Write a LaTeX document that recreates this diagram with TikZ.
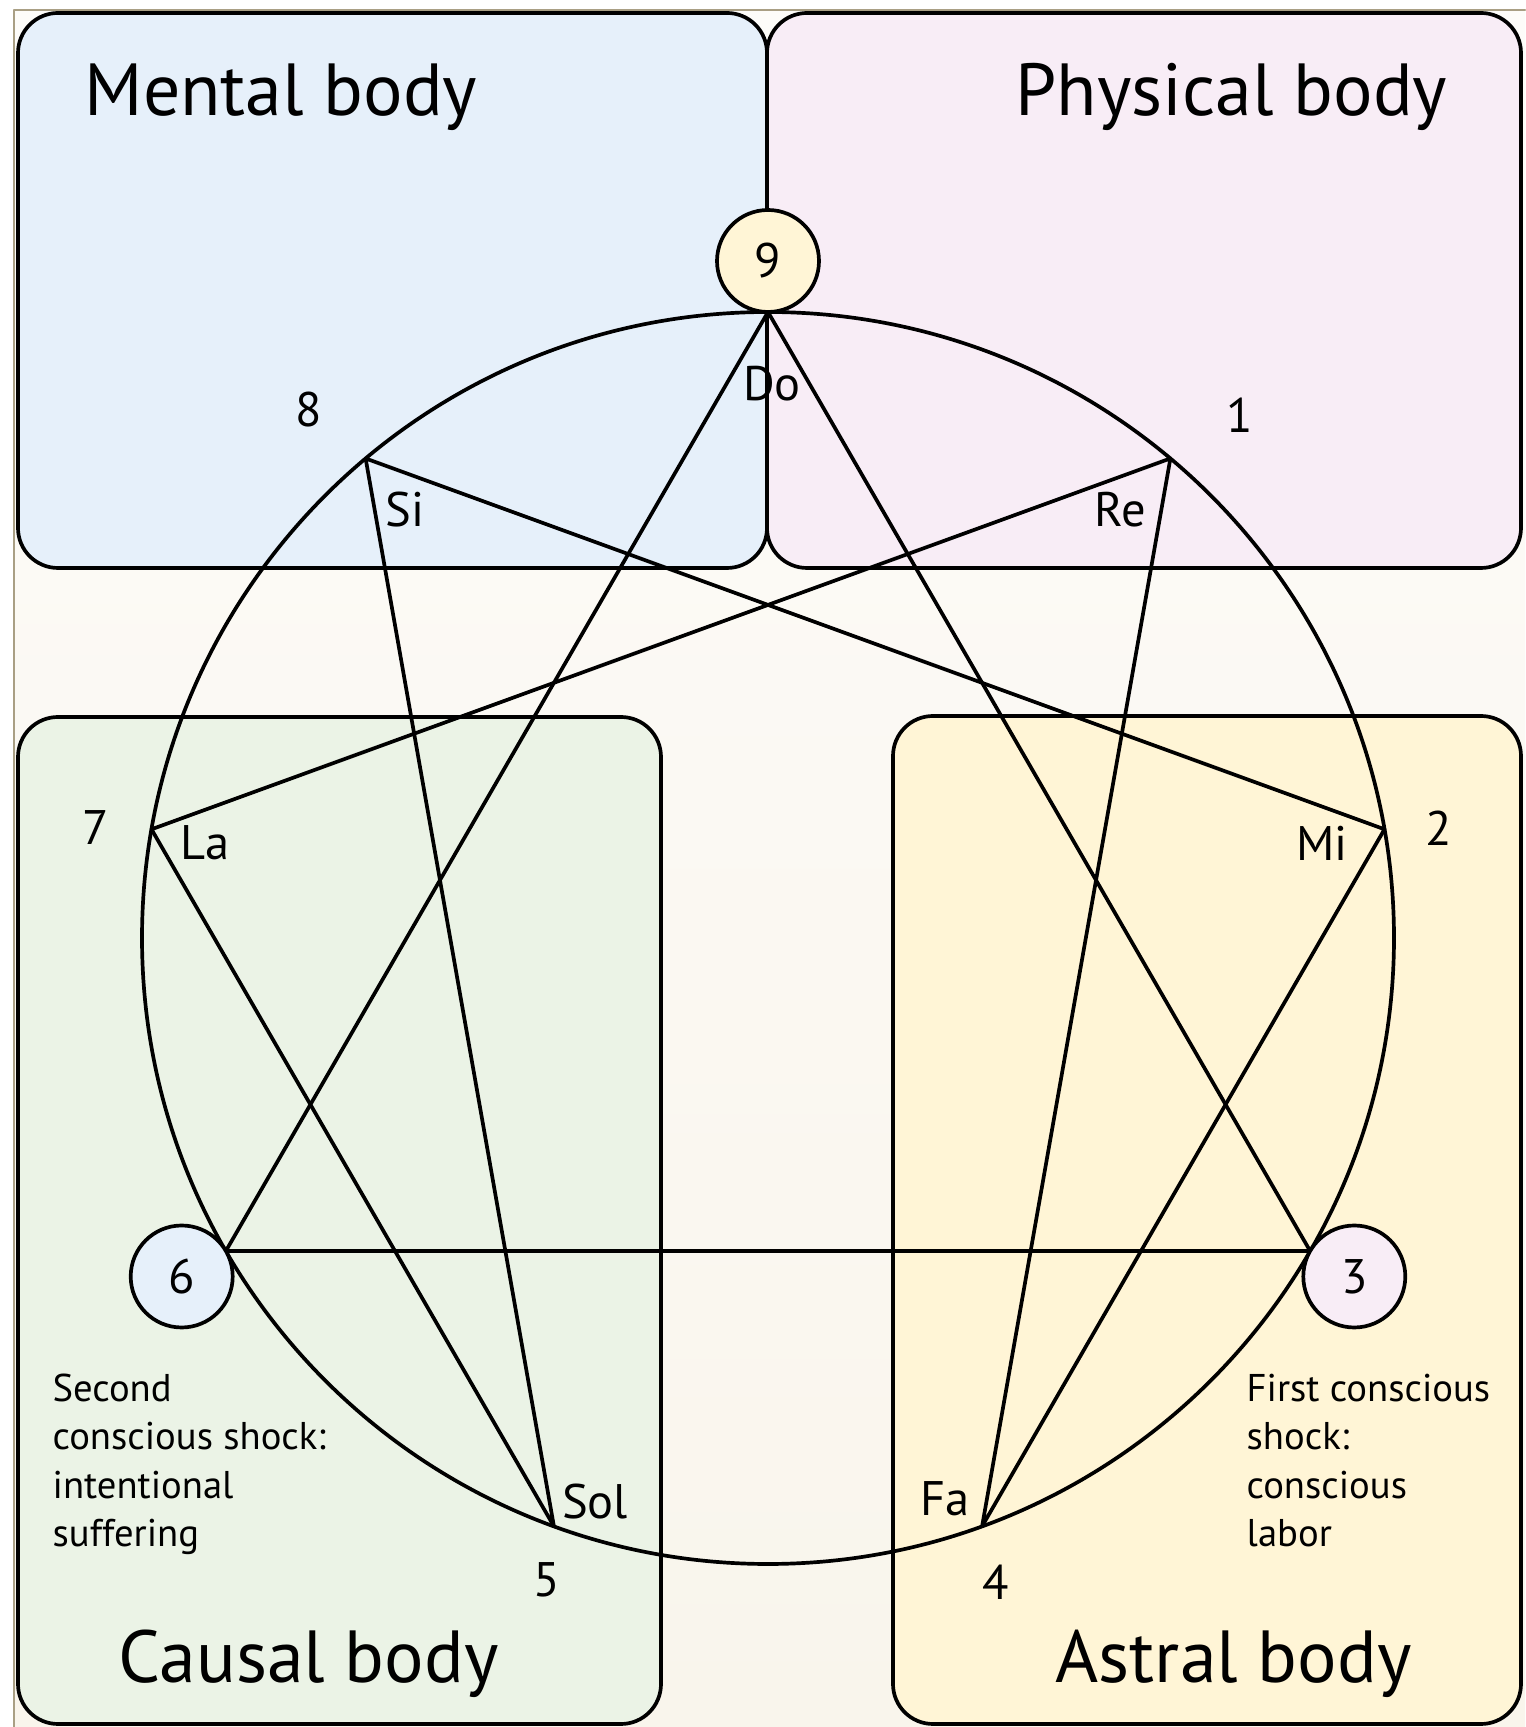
\documentclass[tikz,border=0pt]{standalone}
\usepackage{fontspec}
\setmainfont{PT Sans}
\usetikzlibrary{positioning}

\definecolor{mentalblue}{HTML}{E6F0FA}
\definecolor{physpink}{HTML}{F8EDF6}
\definecolor{causalgreen}{HTML}{EBF3E6}
\definecolor{astralyellow}{HTML}{FFF5D6}
\definecolor{framebrown}{HTML}{A99F84}
\definecolor{pagetop}{HTML}{FDFCF9}
\definecolor{pagebottom}{HTML}{F9F5EC}

\begin{document}
\begin{tikzpicture}[x=0.1mm,y=0.1mm, line cap=round, line join=round,
  body/.style={draw=black, line width=1.05pt, rounded corners=4mm},
  stroke/.style={draw=black, line width=1.05pt},
  shock/.style={circle, draw=black, line width=1.05pt, minimum size=10.2mm, inner sep=0pt, font=\fontsize{13.8}{16}\selectfont},
  title/.style={anchor=base west, inner sep=0pt, font=\fontsize{21}{25}\selectfont},
  num/.style={inner sep=0pt, font=\fontsize{13.8}{16}\selectfont},
  caption/.style={anchor=base west, inner sep=0pt, align=left, font=\fontsize{11}{13.8}\selectfont}]
\useasboundingbox (0,0) rectangle (1525,1727);

% Page
\fill[white] (0,0) rectangle (1525,1727);
\shade[top color=pagetop, bottom color=pagebottom] (14,0) rectangle (1525,1717);
\draw[framebrown, line width=0.6pt] (14,0) -- (14,1717) -- (1525,1717);

% Bodies
\filldraw[body, fill=mentalblue] (18,1159) rectangle (767,1714);
\filldraw[body, fill=physpink] (767,1159) rectangle (1521,1714);
\filldraw[body, fill=causalgreen] (18,3) rectangle (661,1010);
\filldraw[body, fill=astralyellow] (893,3) rectangle (1521,1011);

\node[title] (mental) at (84,1611) {Mental body};
\node[title] (physical) at (1015,1611) {Physical body};
\node[title] (causal) at (118,44) {Causal body};
\node[title] (astral) at (1055,44) {Astral body};

% Enneagram
\coordinate (C) at (768,789);
\draw[stroke] (C) circle[radius=62.6mm];
\foreach \k in {1,...,9}
  \coordinate (p\k) at ([shift={(768,789)}] {90-40*\k}:626);

\draw[stroke] (p9) -- (p3) -- (p6) -- cycle;
\draw[stroke] (p1) -- (p4) -- (p2) -- (p8) -- (p5) -- (p7) -- cycle;

% Shock points
\node[shock, fill=astralyellow] (n9) at ([shift={(768,789)}] 90:677) {9};
\node[shock, fill=mentalblue] (n6) at ([shift={(768,789)}] 210:677) {6};
\node[shock, fill=physpink] (n3) at ([shift={(768,789)}] 330:677) {3};

% Numbers
\node[num] (n8) at (309,1317) {8};
\node[num] (n1) at (1240,1312) {1};
\node[num] (n7) at (96,899) {7};
\node[num] (n2) at (1439,899) {2};
\node[num] (n5) at (547,147) {5};
\node[num] (n4) at (996,145) {4};

% Notes
\node[num] (do) at (772,1343) {Do};
\node[num] (si) at (405,1217) {Si};
\node[num] (re) at (1120,1217) {Re};
\node[num] (la) at (205,884) {La};
\node[num] (mi) at (1322,884) {Mi};
\node[num] (sol) at (595,225) {Sol};
\node[num] (fa) at (945,228) {Fa};

% Shocks
\node[caption] (second) at (52,180) {Second\\conscious shock:\\intentional\\suffering};
\node[caption] (first) at (1246,180) {First conscious\\shock:\\conscious\\labor};
\end{tikzpicture}
\end{document}
